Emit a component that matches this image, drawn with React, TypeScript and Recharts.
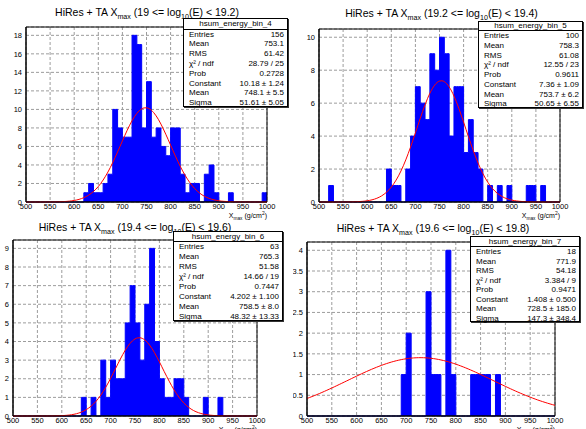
import { Area, CartesianGrid, ComposedChart, Line, ReferenceArea, XAxis, YAxis } from 'recharts';

const FONT = '"Liberation Sans", Arial, Helvetica, sans-serif';

// Xmax histograms: 50 bins of 10 g/cm^2 between 500 and 1000
const binLow: number[] = Array.from({ length: 50 }, (_, i) => 500 + i * 10);
const xTicks = [500, 550, 600, 650, 700, 750, 800, 850, 900, 950, 1000];

const bin4Counts = [
  0, 0, 0, 0, 0, 0, 0, 0, 0, 0,
  0, 0, 1, 2, 1, 1, 2, 3, 10, 8,
  7, 7, 18, 17, 8, 13, 7, 8, 6, 5,
  8, 8, 3, 1, 2, 2, 0, 3, 4, 1,
  0, 0, 1, 0, 0, 0, 0, 0, 0, 1,
];
const bin5Counts = [
  0, 0, 1, 0, 0, 0, 0, 0, 0, 0,
  0, 0, 0, 0, 2, 1, 1, 0, 2, 4,
  7, 6, 5, 9, 8, 10, 9, 4, 7, 7,
  3, 5, 3, 2, 0, 1, 0, 1, 0, 1,
  0, 0, 0, 1, 1, 0, 1, 0, 0, 0,
];
const bin6Counts = [
  0, 0, 0, 0, 0, 0, 0, 0, 0, 0,
  0, 0, 0, 0, 1, 0, 1, 0, 3, 1,
  3, 2, 2, 5, 7, 5, 3, 6, 9, 4,
  2, 1, 1, 2, 2, 1, 0, 0, 0, 1,
  0, 0, 1, 0, 0, 0, 0, 0, 0, 0,
];
const bin7Counts = [
  0, 0, 0, 0, 0, 0, 0, 0, 0, 0,
  0, 0, 0, 0, 0, 0, 0, 0, 0, 1,
  2, 0, 0, 0, 3, 1, 1, 0, 4, 1,
  0, 0, 0, 1, 1, 1, 1, 0, 1, 0,
  0, 0, 0, 0, 0, 0, 0, 0, 0, 0,
];

// gaus fit results: [constant, mean, sigma]
const bin4Fit = [10.18, 748.1, 51.61];
const bin5Fit = [7.36, 753.7, 50.65];
const bin6Fit = [4.202, 758.5, 48.32];
const bin7Fit = [1.408, 728.5, 147.3];

const bin4Stats: [string, string][] = [
  ['Entries', '156'], ['Mean', '753.1'], ['RMS', '61.42'], ['χ² / ndf', '28.79 / 25'],
  ['Prob', '0.2728'], ['Constant', '10.18 ± 1.24'], ['Mean', '748.1 ± 5.5'], ['Sigma', '51.61 ± 5.05'],
];
const bin5Stats: [string, string][] = [
  ['Entries', '100'], ['Mean', '758.3'], ['RMS', '61.08'], ['χ² / ndf', '12.55 / 23'],
  ['Prob', '0.9611'], ['Constant', '7.36 ± 1.09'], ['Mean', '753.7 ± 6.2'], ['Sigma', '50.65 ± 6.55'],
];
const bin6Stats: [string, string][] = [
  ['Entries', '63'], ['Mean', '765.3'], ['RMS', '51.58'], ['χ² / ndf', '14.66 / 19'],
  ['Prob', '0.7447'], ['Constant', '4.202 ± 1.100'], ['Mean', '758.5 ± 8.0'], ['Sigma', '48.32 ± 13.33'],
];
const bin7Stats: [string, string][] = [
  ['Entries', '18'], ['Mean', '771.9'], ['RMS', '54.18'], ['χ² / ndf', '3.384 / 9'],
  ['Prob', '0.9471'], ['Constant', '1.408 ± 0.500'], ['Mean', '728.5 ± 185.0'], ['Sigma', '147.3 ± 348.4'],
];

const Y_AXIS_W = 12;
const X_AXIS_H = 12;

const panels = [
  {
    name: 'hsum_energy_bin_4', lo: '19', hi: '19.2', counts: bin4Counts, fit: bin4Fit, stats: bin4Stats,
    yMax: 18.9, yTicks: [0, 2, 4, 6, 8, 10, 12, 14, 16, 18],
    box: { x: 0, y: 0, w: 293, h: 214 }, plot: { l: 26, t: 27, r: 267, b: 202 }, axisTitleY: 210,
    titleX: 147, titleY: 6, sbox: { l: 183, t: 18, r: 288, hb: 28.5, b: 107 },
  },
  {
    name: 'hsum_energy_bin_5', lo: '19.2', hi: '19.4', counts: bin5Counts, fit: bin5Fit, stats: bin5Stats,
    yMax: 10.5, yTicks: [0, 2, 4, 6, 8, 10],
    box: { x: 293, y: 0, w: 293, h: 214 }, plot: { l: 26, t: 29, r: 267, b: 202 }, axisTitleY: 210,
    titleX: 148.5, titleY: 7, sbox: { l: 185, t: 21, r: 290, hb: 30, b: 108 },
  },
  {
    name: 'hsum_energy_bin_6', lo: '19.4', hi: '19.6', counts: bin6Counts, fit: bin6Fit, stats: bin6Stats,
    yMax: 9.45, yTicks: [0, 1, 2, 3, 4, 5, 6, 7, 8, 9],
    box: { x: 0, y: 214, w: 293, h: 215 }, plot: { l: 13, t: 26, r: 257, b: 202 }, axisTitleY: 210,
    titleX: 135, titleY: 7, sbox: { l: 173, t: 17, r: 283, hb: 27, b: 107 },
  },
  {
    name: 'hsum_energy_bin_7', lo: '19.6', hi: '19.8', counts: bin7Counts, fit: bin7Fit, stats: bin7Stats,
    yMax: 4.2, yTicks: [0, 0.5, 1, 1.5, 2, 2.5, 3, 3.5, 4],
    box: { x: 293, y: 214, w: 293, h: 215 }, plot: { l: 14, t: 28, r: 262, b: 202 }, axisTitleY: 210,
    titleX: 140, titleY: 8, sbox: { l: 177, t: 22, r: 287, hb: 32, b: 108 },
  },
];

function gaus(x: number, fit: number[]) {
  const [c, m, s] = fit;
  return c * Math.exp(-0.5 * ((x - m) / s) ** 2);
}

// rows every 5 g/cm^2: histogram drawn as a step area, fit as a line
function buildRows(counts: number[], fit: number[]) {
  const rows = [];
  for (let x = 500; x <= 1000; x += 5) {
    const idx = Math.min(binLow.length - 1, Math.floor((x - 500) / 10));
    rows.push({ x, count: counts[idx], fit: gaus(x, fit) });
  }
  return rows;
}

const Sub = ({ children }: { children: React.ReactNode }) => (
  <span style={{ fontSize: '0.68em', position: 'relative', top: '0.4em' }}>{children}</span>
);

const tickStyle = { fontSize: 7.5, fill: '#000', fontFamily: FONT };

function Panel({ p }: { p: (typeof panels)[number] }) {
  const { box, plot, sbox } = p;
  const data = buildRows(p.counts, p.fit);
  const rowH = (sbox.b - sbox.hb) / p.stats.length;
  return (
    <div style={{ position: 'absolute', left: box.x, top: box.y, width: box.w, height: box.h }}>
      <ComposedChart
        width={box.w}
        height={box.h}
        data={data}
        margin={{
          top: plot.t,
          left: plot.l - Y_AXIS_W,
          right: box.w - plot.r,
          bottom: box.h - plot.b - X_AXIS_H,
        }}
      >
        <CartesianGrid strokeDasharray="3 2" stroke="#9c9c9c" />
        <XAxis
          type="number"
          dataKey="x"
          domain={[500, 1000]}
          ticks={xTicks}
          interval={0}
          height={X_AXIS_H}
          tickLine={false}
          tickSize={2}
          tickMargin={0}
          axisLine={{ stroke: '#000' }}
          tick={tickStyle}
        />
        <YAxis
          type="number"
          domain={[0, p.yMax]}
          ticks={p.yTicks}
          interval={0}
          width={Y_AXIS_W}
          tickLine={false}
          tickSize={2}
          tickMargin={2}
          axisLine={{ stroke: '#000' }}
          tick={tickStyle}
        />
        <Area
          type="stepAfter"
          dataKey="count"
          stroke="#0000ff"
          fill="#0000ff"
          fillOpacity={1}
          dot={false}
          activeDot={false}
          isAnimationActive={false}
        />
        <Line
          type="monotone"
          dataKey="fit"
          stroke="#ff0000"
          strokeWidth={1}
          dot={false}
          activeDot={false}
          isAnimationActive={false}
        />
        <ReferenceArea x1={500} x2={1000} y1={0} y2={p.yMax} fill="none" stroke="#000" strokeWidth={1} />
      </ComposedChart>

      <div
        style={{
          position: 'absolute',
          left: p.titleX,
          top: p.titleY,
          transform: 'translateX(-50%)',
          whiteSpace: 'nowrap',
          fontFamily: FONT,
          fontSize: 10.5,
          lineHeight: '12px',
          color: '#000',
        }}
      >
        HiRes + TA X<Sub>max</Sub> ({p.lo} &lt;= log<Sub>10</Sub>(E) &lt; {p.hi})
      </div>

      <div
        style={{
          position: 'absolute',
          right: box.w - plot.r,
          top: p.axisTitleY,
          whiteSpace: 'nowrap',
          fontFamily: FONT,
          fontSize: 7,
          lineHeight: '8px',
        }}
      >
        X<Sub>max</Sub> (g/cm<sup style={{ fontSize: '0.7em' }}>2</sup>)
      </div>

      <div
        style={{
          position: 'absolute',
          left: sbox.l,
          top: sbox.t,
          width: sbox.r - sbox.l,
          height: sbox.b - sbox.t,
          boxSizing: 'border-box',
          border: '1px solid #000',
          boxShadow: '1px 1px 0 #333',
          background: '#fff',
          fontFamily: FONT,
          fontSize: 8,
          color: '#000',
        }}
      >
        <div
          style={{
            height: sbox.hb - sbox.t,
            lineHeight: `${sbox.hb - sbox.t - 1}px`,
            textAlign: 'center',
            borderBottom: '1px solid #000',
            boxSizing: 'border-box',
          }}
        >
          {p.name}
        </div>
        {p.stats.map(([label, value], i) => (
          <div
            key={i}
            style={{
              display: 'flex',
              justifyContent: 'space-between',
              height: rowH,
              lineHeight: `${rowH}px`,
              padding: '0 3px 0 5px',
              whiteSpace: 'nowrap',
            }}
          >
            <span>{label}</span>
            <span>{value}</span>
          </div>
        ))}
      </div>
    </div>
  );
}

export default function App() {
  return (
    <div style={{ position: 'absolute', left: 0, top: 0, width: 586, height: 429, background: '#fff', overflow: 'hidden' }}>
      {panels.map((p) => (
        <Panel key={p.name} p={p} />
      ))}
    </div>
  );
}
